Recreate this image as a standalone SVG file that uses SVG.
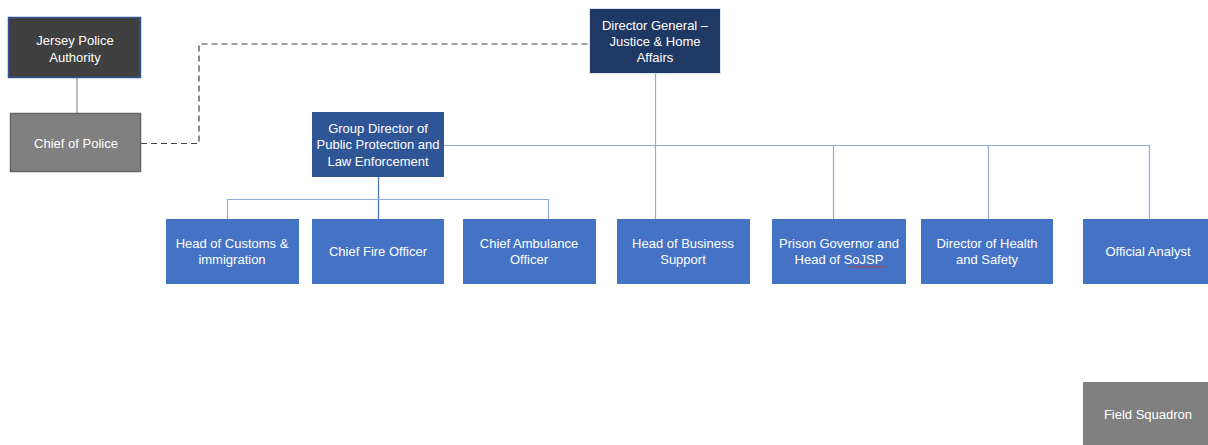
<svg xmlns="http://www.w3.org/2000/svg" width="1208" height="445" viewBox="0 0 1208 445">
<style>
text{font-family:"Liberation Sans",Arial,sans-serif;font-size:13px;fill:#ffffff;text-anchor:middle;dominant-baseline:central}
.b{fill:#4472C4}
.ln{stroke:#8FAADC;stroke-width:1.2;fill:none}
.ld{stroke:#4472C4;stroke-width:1.2;fill:none}
</style>
<rect width="1208" height="445" fill="#ffffff"/>
<g id="connectors">
<line x1="77" y1="78" x2="77" y2="113" stroke="#A6A6A6" stroke-width="1.5"/>
<path d="M141 143.5H199V44H589" fill="none" stroke="#404040" stroke-width="1.2" stroke-dasharray="6,4"/>
<path class="ln" d="M655.5 74V219"/>
<path class="ln" d="M444 145.5H1149.5V219"/>
<path class="ln" d="M833.5 145.5V219"/>
<path class="ln" d="M988.5 145.5V219"/>
<path class="ld" d="M378.5 177V219"/>
<path class="ln" d="M227.5 219V199.5H548.5V219"/>
</g>
<g id="jersey-police-authority"><rect x="8.5" y="17.5" width="132" height="60" fill="#404040" stroke="#2F5597" stroke-width="1.5"/><text x="75" y="40">Jersey Police</text><text x="75" y="57">Authority</text></g>
<g id="chief-of-police"><rect x="10.5" y="113.5" width="130" height="58" fill="#808080" stroke="#666666" stroke-width="1.5"/><text x="76" y="143">Chief of Police</text></g>
<g id="director-general"><rect x="589.5" y="8.5" width="131" height="65" fill="#203864" stroke="#DAE3F3" stroke-width="1"/><text x="655" y="25">Director General –</text><text x="655" y="41">Justice &amp; Home</text><text x="655" y="57">Affairs</text></g>
<g id="group-director"><rect x="312" y="112" width="132" height="65" fill="#2F5597"/><text x="378" y="128">Group Director of</text><text x="378" y="144">Public Protection and</text><text x="378" y="161">Law Enforcement</text></g>
<g id="head-customs"><rect class="b" x="166" y="219" width="133" height="65"/><text x="232" y="243">Head of Customs &amp;</text><text x="232" y="259">immigration</text></g>
<g id="chief-fire"><rect class="b" x="312" y="219" width="132" height="65"/><text x="378" y="251">Chief Fire Officer</text></g>
<g id="chief-ambulance"><rect class="b" x="463" y="219" width="133" height="65"/><text x="529" y="243">Chief Ambulance</text><text x="529" y="259">Officer</text></g>
<g id="head-business"><rect class="b" x="617" y="219" width="133" height="65"/><text x="683" y="243">Head of Business</text><text x="683" y="259">Support</text></g>
<g id="prison-governor"><rect class="b" x="772" y="219" width="134" height="65"/><text x="839" y="243">Prison Governor and</text><text x="839" y="259">Head of SoJSP</text><path d="M849 267.5l2-1.5 2 1.5 2-1.5 2 1.5 2-1.5 2 1.5 2-1.5 2 1.5 2-1.5 2 1.5 2-1.5 2 1.5 2-1.5 2 1.5 2-1.5 2 1.5 2-1.5 2 1.5" fill="none" stroke="#E03030" stroke-width="0.8"/></g>
<g id="director-health"><rect class="b" x="921" y="219" width="132" height="65"/><text x="987" y="243">Director of Health</text><text x="987" y="259">and Safety</text></g>
<g id="official-analyst"><rect class="b" x="1083" y="219" width="126" height="65"/><text x="1148" y="251">Official Analyst</text></g>
<g id="field-squadron"><rect x="1083" y="382" width="126" height="64" fill="#808080"/><text x="1148" y="414">Field Squadron</text></g>
</svg>
